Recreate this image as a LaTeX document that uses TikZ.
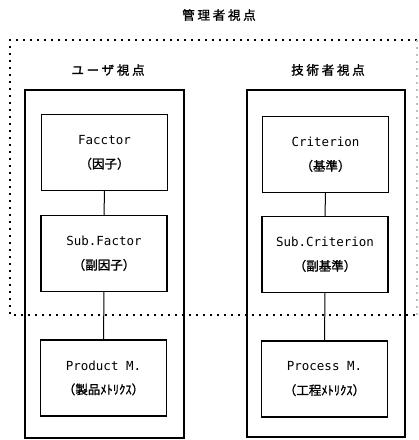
\documentclass[tikz,border=0pt]{standalone}
\usepackage{fontspec}
\newfontfamily\jpfont[FakeBold=1.2]{Noto Sans CJK JP}
\newfontfamily\jphead[LetterSpace=22,FakeBold=1.5]{Noto Sans CJK JP}
\newfontfamily\latfont{DejaVu Sans Mono}
\newcommand{\jpline}[1]{{\jpfont\fontsize{12.5}{24}\selectfont #1}}
\begin{document}
\begin{tikzpicture}[x=1pt,y=-1pt,
  box/.style={draw, line width=1.3pt, minimum width=126pt, minimum height=76pt,
    align=center, inner sep=0pt, font=\fontsize{12.5}{24}\selectfont},
  outerbox/.style={draw, line width=1.1pt, inner sep=0pt},
  link/.style={line width=1pt},
  dotline/.style={line width=1.1pt, dash pattern=on 2.4pt off 4.6pt},
  head/.style={inner sep=0pt, font=\jphead\fontsize{12.5}{14}\selectfont}]
\useasboundingbox (0,0) rectangle (419,440);

\node[head] (title) at (219,15) {管理者視点};
\node[head] (userh) at (108,70) {ユーザ視点};
\node[head] (techh) at (328,70) {技術者視点};

\node[outerbox, minimum width=159pt, minimum height=348pt] (lcol) at (104.5,264) {};
\node[outerbox, minimum width=158pt, minimum height=347pt] (rcol) at (326,263.5) {};

\node[box] (fac) at (104.5,152.5) {{\latfont Facctor}\\\jpline{（因子）}};
\node[box] (subfac) at (104,253.5) {{\latfont Sub.Factor}\\\jpline{（副因子）}};
\node[box] (prod) at (103.5,378) {{\latfont Product M.}\\\jpline{（製品ﾒﾄﾘｸｽ）}};

\node[box] (crit) at (325.5,154.5) {{\latfont Criterion}\\\jpline{（基準）}};
\node[box] (subcrit) at (325,254.5) {{\latfont Sub.Criterion}\\\jpline{（副基準）}};
\node[box] (proc) at (324.5,379) {{\latfont Process M.}\\\jpline{（工程ﾒﾄﾘｸｽ）}};

\draw[link] (fac) -- (subfac);
\draw[link] (subfac) -- (prod);
\draw[link] (crit) -- (subcrit);
\draw[link] (subcrit) -- (proc);

\coordinate (tl) at (10,40);
\coordinate (tr) at (417,40);
\coordinate (br) at (417,315);
\coordinate (bl) at (10,315);
\draw[dotline] (tr) -- (tl) -- (bl) -- (br);
\draw[dotline, gray!50] (tr) -- (br);
\end{tikzpicture}
\end{document}
